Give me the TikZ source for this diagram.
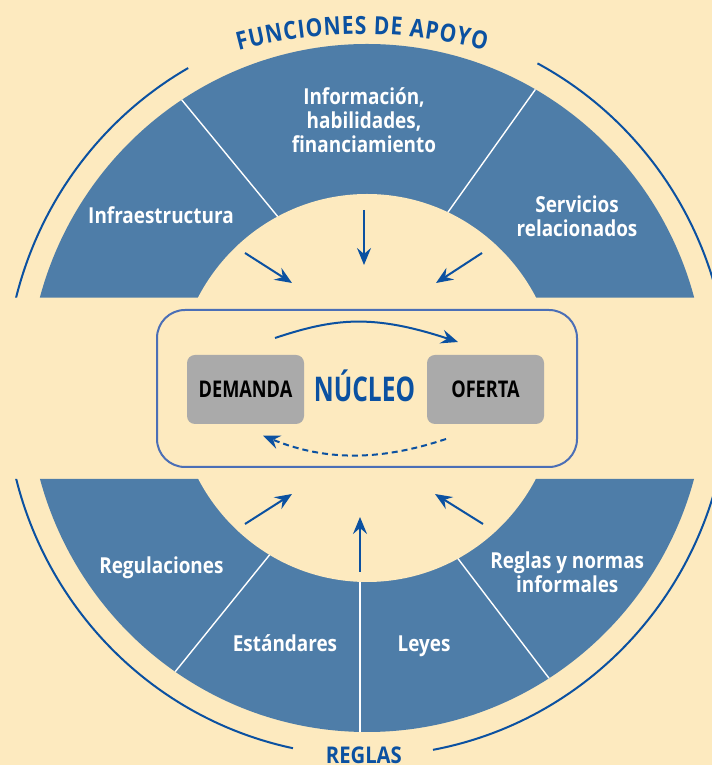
\documentclass[tikz,border=0pt]{standalone}
\usepackage{fontspec}
\setmainfont{Open Sans}
\newfontfamily\labelfont{Open Sans}[FakeStretch=0.86]
\newfontfamily\boxfont{Open Sans}[FakeStretch=0.79]
\newfontfamily\corefont{Open Sans}[FakeStretch=0.72]
\newfontfamily\headfont{Open Sans}[FakeStretch=0.88]
\newfontfamily\archfont{Open Sans}[FakeStretch=0.84]
\usetikzlibrary{arrows.meta,decorations.text}

\definecolor{bgcream}{HTML}{FDEABF}
\definecolor{ringblue}{HTML}{4E7DA8}
\definecolor{deepblue}{HTML}{0B51A1}
\definecolor{frameblue}{HTML}{4B6FB6}
\definecolor{boxgray}{HTML}{AAAAAA}

\begin{document}
\begin{tikzpicture}[x=1pt,y=1pt,
  sector/.style={text=white, align=center, inner sep=0pt,
    font=\labelfont\bfseries\fontsize{22}{24}\selectfont},
  feed/.style={draw=deepblue, line width=2pt,
    -{Stealth[length=17pt,width=14pt,inset=6pt]}},
  divider/.style={draw=white, line width=1.4pt},
  rim/.style={draw=deepblue, line width=2pt},
  gbox/.style={fill=boxgray, rounded corners=8pt, minimum width=117pt,
    minimum height=69pt, inner sep=0pt, text=black,
    font=\boxfont\bfseries\fontsize{23}{23}\selectfont},
  corebox/.style={draw=frameblue, line width=2pt, rounded corners=28pt,
    minimum width=420pt, minimum height=157pt, inner sep=0pt},
  heading/.style={text=deepblue, inner sep=0pt,
    font=\headfont\bfseries\fontsize{23}{23}\selectfont},
]
\useasboundingbox (0,0) rectangle (712,765);
\fill[bgcream] (0,0) rectangle (712,765);

\coordinate (C) at (367,377);

% two half rings, with the horizontal band through the middle left open
\begin{scope}
  \clip (0,0) rectangle (712,286) (0,467.3) rectangle (712,765);
  \fill[ringblue] (C) ellipse[x radius=339, y radius=344];
  \begin{scope}
    \clip (C) ellipse[x radius=339, y radius=344];
    \draw[divider] (174.2,674.3) -- (284.9,539.7);
    \draw[divider] (542.4,685.4) -- (442.1,544.6);
    \draw[divider] (277,219.3) -- (168.5,85);
    \draw[divider] (451,215.5) -- (556.3,77.2);
    \draw[divider] (360,200) -- (360,20);
  \end{scope}
  % outer rims
  \draw[rim] (C) ++(119.6:362 and 368) arc[start angle=119.6, end angle=180, x radius=362, y radius=368];
  \draw[rim] (C) ++(0:362 and 368) arc[start angle=0, end angle=61.9, x radius=362, y radius=368];
  \draw[rim] (C) ++(180:362 and 368) arc[start angle=180, end angle=258.2, x radius=362, y radius=368];
  \draw[rim] (C) ++(280.5:362 and 368) arc[start angle=280.5, end angle=360, x radius=362, y radius=368];
\end{scope}
% open centre of the rings
\fill[bgcream] (C) ellipse[x radius=191, y radius=194];

% headings
\path[decorate, decoration={text along path, text align=fit to path,
    text={|\archfont\bfseries\fontsize{25}{25}\selectfont\color{deepblue}|FUNCIONES DE APOYO}}]
  (362,254) ++(105:477) arc[start angle=105, end angle=75, radius=477];
\node[heading, anchor=base] (reglas) at (363.9,1.6) {REGLAS};

% sector labels
\node[sector, anchor=base] (infra) at (161,541.7) {Infraestructura};
\node[sector] (info) at (364,644.5) {Información,\\habilidades,\\financiamiento};
\node[sector] (serv) at (577,549.2) {Servicios\\relacionados};
\node[sector, anchor=base] (regu) at (161.4,191.7) {Regulaciones};
\node[sector, anchor=base] (estd) at (285,113.3) {Estándares};
\node[sector, anchor=base] (leyes) at (424,113) {Leyes};
\node[sector] (informal) at (567.3,193) {Reglas y normas\\informales};

% arrows into the core
\coordinate (t1) at (245,512); \coordinate (t1e) at (292,482);
\coordinate (t2) at (364,555); \coordinate (t2e) at (364,500);
\coordinate (t3) at (482,512); \coordinate (t3e) at (436,482);
\coordinate (b1) at (245,241); \coordinate (b1e) at (292,271);
\coordinate (b2) at (360,193); \coordinate (b2e) at (360,248);
\coordinate (b3) at (483,241); \coordinate (b3e) at (435,271);
\draw[feed] (t1) -- (t1e);
\draw[feed] (t2) -- (t2e);
\draw[feed] (t3) -- (t3e);
\draw[feed] (b1) -- (b1e);
\draw[feed] (b2) -- (b2e);
\draw[feed] (b3) -- (b3e);

% core
\node[corebox] (core) at (367,376.5) {};
\node[gbox] (dem) at (245.5,375.5) {DEMANDA};
\node[gbox] (ofe) at (485.5,375.5) {OFERTA};
\node[text=deepblue, inner sep=0pt, anchor=base,
  font=\corefont\bfseries\fontsize{34}{34}\selectfont] (nucleo) at (364.5,363.3) {NÚCLEO};

\coordinate (fwdS) at (275,427); \coordinate (fwdE) at (458,423);
\draw[feed] (fwdS) .. controls (335,447) and (373,451) .. (fwdE);
\coordinate (backS) at (446,326); \coordinate (backE) at (263,329.3);
\draw[feed, dash pattern=on 6pt off 4pt] (backS) .. controls (386,306) and (330,302) .. (backE);
\end{tikzpicture}
\end{document}
